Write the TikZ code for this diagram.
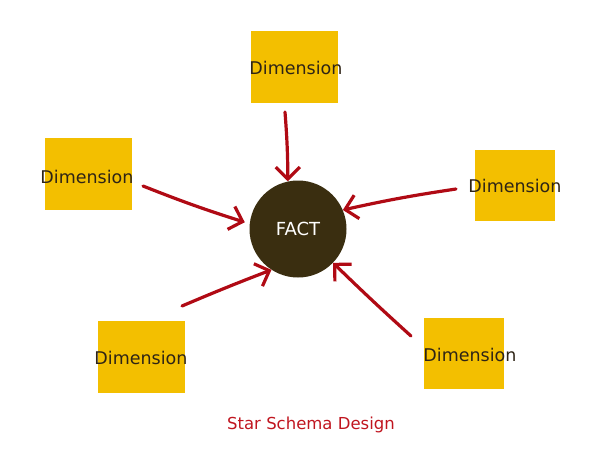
\documentclass[tikz,border=0pt]{standalone}
\usepackage{fontspec}
\setmainfont{DejaVu Sans}
\usetikzlibrary{arrows.meta}
\definecolor{dimgold}{HTML}{F3BF00}
\definecolor{factbrown}{HTML}{3A2E10}
\definecolor{arrred}{HTML}{B00A14}
\definecolor{captred}{HTML}{C0151F}
\definecolor{dimink}{HTML}{2E2416}

\begin{document}
\begin{tikzpicture}[x=1pt,y=-1pt,
  dimbox/.style={fill=dimgold,draw=none,minimum width=87pt,minimum height=72pt,inner sep=0pt},
  dimbox small/.style={dimbox,minimum width=80pt,minimum height=71pt},
  dimtext/.style={text=dimink,font=\fontsize{17.5}{19}\selectfont,inner sep=0pt},
  link/.style={draw=arrred,line width=3.2pt,line cap=round,line join=round,
    -{Straight Barb[length=12pt,width=24pt,line width=3.2pt]}}]
  \useasboundingbox (0,0) rectangle (609,450);

  % the fact table
  \node[circle,fill=factbrown,minimum size=97pt,inner sep=0pt,
    text=white,font=\fontsize{18}{20}\selectfont] (fact) at (298,229) {FACT};

  % the dimension tables
  \node[dimbox] (top) at (294.5,67) {};
  \node[dimtext] at (296,68) {Dimension};

  \node[dimbox] (left) at (88.5,174) {};
  \node[dimtext] at (87,177) {Dimension};

  \node[dimbox small] (right) at (515,185.5) {};
  \node[dimtext] at (515,186) {Dimension};

  \node[dimbox] (botleft) at (141.5,357) {};
  \node[dimtext] at (141,358) {Dimension};

  \node[dimbox small] (botright) at (464,353.5) {};
  \node[dimtext] at (470,355) {Dimension};

  % free ends of the arrows
  \coordinate (s1) at (285,112);
  \coordinate (s2) at (143,186);
  \coordinate (s3) at (456,189);
  \coordinate (s4) at (182,306);
  \coordinate (s5) at (411,336);

  % arrows into the fact
  \draw[link] (s1) to[bend left=2] (fact.102);
  \draw[link] (s2) to[bend right=2] ([xshift=-5pt]fact.172);
  \draw[link] (s3) to[bend right=2] (fact.23);
  \draw[link] (s4) to[bend left=1] (fact.237);
  \draw[link] (s5) to[bend left=1] (fact.316);

  % caption
  \node[text=captred,font=\fontsize{16.5}{18}\selectfont] (caption) at (311,425) {Star Schema Design};
\end{tikzpicture}
\end{document}
